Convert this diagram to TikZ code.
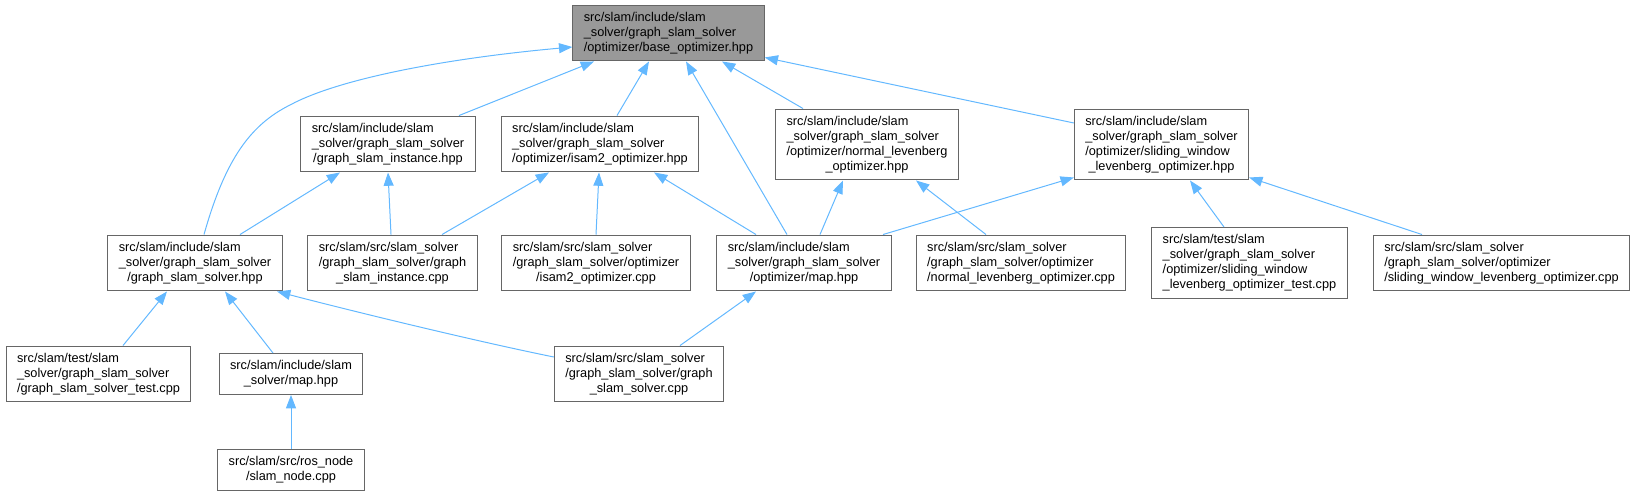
\documentclass[tikz,border=0pt]{standalone}
\usepackage{fontspec}
\setmainfont{Liberation Sans}
\usetikzlibrary{arrows.meta,calc}
\definecolor{edgeblue}{HTML}{63B8FF}
\definecolor{boxgray}{HTML}{666666}
\definecolor{basefill}{HTML}{999999}
\newcommand\fname[2]{\begin{tabular}{@{}l@{}}#1\\\multicolumn{1}{@{}c@{}}{#2}\end{tabular}}
\begin{document}
\begin{tikzpicture}[x=0.75pt,y=-0.75pt,
    file/.style={draw=boxgray,line width=0.75pt,fill=white,inner xsep=8.25pt,inner ysep=4.1pt,
      font=\fontsize{9.56}{11.25}\selectfont},
    dep/.style={draw=edgeblue,line width=0.75pt,-{Triangle[length=10pt,width=7.5pt]}}]
  \useasboundingbox (0,0) rectangle (1637,496);
  \draw
    (668.5,33) node[file,fill=basefill] (base){\fname{src/slam/include/slam\\\_solver/graph\_slam\_solver}{/optimizer/base\_optimizer.hpp}}
    (388,144) node[file] (insthpp){\fname{src/slam/include/slam\\\_solver/graph\_slam\_solver}{/graph\_slam\_instance.hpp}}
    (600,144) node[file] (isamhpp){\fname{src/slam/include/slam\\\_solver/graph\_slam\_solver}{/optimizer/isam2\_optimizer.hpp}}
    (867,144.5) node[file] (normhpp){\fname{src/slam/include/slam\\\_solver/graph\_slam\_solver\\/optimizer/normal\_levenberg}{\_optimizer.hpp}}
    (1161.5,144.5) node[file] (slidhpp){\fname{src/slam/include/slam\\\_solver/graph\_slam\_solver\\/optimizer/sliding\_window}{\_levenberg\_optimizer.hpp}}
    (195,263) node[file] (solvhpp){\fname{src/slam/include/slam\\\_solver/graph\_slam\_solver}{/graph\_slam\_solver.hpp}}
    (392.5,263) node[file] (instcpp){\fname{src/slam/src/slam\_solver\\/graph\_slam\_solver/graph}{\_slam\_instance.cpp}}
    (596,263) node[file] (isamcpp){\fname{src/slam/src/slam\_solver\\/graph\_slam\_solver/optimizer}{/isam2\_optimizer.cpp}}
    (804,263) node[file] (mapopt){\fname{src/slam/include/slam\\\_solver/graph\_slam\_solver}{/optimizer/map.hpp}}
    (1021,263) node[file] (normcpp){\fname{src/slam/src/slam\_solver\\/graph\_slam\_solver/optimizer}{/normal\_levenberg\_optimizer.cpp}}
    (1249.5,263) node[file] (slidtest){\fname{src/slam/test/slam\\\_solver/graph\_slam\_solver\\/optimizer/sliding\_window}{\_levenberg\_optimizer\_test.cpp}}
    (1501.5,263) node[file] (slidcpp){\fname{src/slam/src/slam\_solver\\/graph\_slam\_solver/optimizer}{/sliding\_window\_levenberg\_optimizer.cpp}}
    (98.5,374) node[file] (solvtest){\fname{src/slam/test/slam\\\_solver/graph\_slam\_solver}{/graph\_slam\_solver\_test.cpp}}
    (291,374) node[file] (mapslam){\fname{src/slam/include/slam}{\_solver/map.hpp}}
    (639,374) node[file] (solvcpp){\fname{src/slam/src/slam\_solver\\/graph\_slam\_solver/graph}{\_slam\_solver.cpp}}
    (291,470) node[file] (slamnode){\fname{src/slam/src/ros\_node}{/slam\_node.cpp}};
  \begin{scope}[dep]
    \draw ($(solvhpp.north)+(9,0)$) .. controls (225,160) and (250,125) .. (290,105)
      .. controls (340,78) and (450,58) .. ($(base.west)+(0,14)$);
    \draw ($(insthpp.north)+(71,0)$) to ($(base.south)+(-74.5,0)$);
    \draw ($(isamhpp.north)+(17,0)$) to ($(base.south)+(-19.5,0)$);
    \draw ($(mapopt.north)+(-17,0)$) to ($(base.south)+(17.5,0)$);
    \draw ($(normhpp.north)+(-64,0)$) to ($(base.south)+(53.5,0)$);
    \draw ($(slidhpp.west)+(0,-21.5)$) to ($(base.south east)+(0,-4)$);
    \draw ($(solvhpp.north)+(45,0)$) to ($(insthpp.south)+(-48,0)$);
    \draw ($(instcpp.north)+(-1.5,0)$) to (insthpp.south);
    \draw ($(instcpp.north)+(49.5,0)$) to ($(isamhpp.south)+(-51,0)$);
    \draw (isamcpp.north) to ($(isamhpp.south)+(-1,0)$);
    \draw ($(mapopt.north)+(-48,0)$) to ($(isamhpp.south)+(54,0)$);
    \draw ($(mapopt.north)+(16,0)$) to ($(normhpp.south)+(-24,0)$);
    \draw ($(normcpp.north)+(-35,0)$) to ($(normhpp.south)+(49,0)$);
    \draw ($(mapopt.north)+(79,0)$) to ($(slidhpp.south west)+(0,-3)$);
    \draw ($(slidtest.north)+(-25.5,0)$) to ($(slidhpp.south)+(28.5,0)$);
    \draw ($(slidcpp.north)+(-79.5,0)$) to ($(slidhpp.south east)+(0,-3)$);
    \draw ($(solvtest.north)+(24.5,0)$) to ($(solvhpp.south)+(-28,0)$);
    \draw ($(mapslam.north)+(-18,0)$) to ($(solvhpp.south)+(30,0)$);
    \draw ($(solvcpp.west)+(0,-17)$) .. controls (470,340) and (340,308) .. ($(solvhpp.south)+(82,0)$);
    \draw ($(solvcpp.north)+(41,0)$) to ($(mapopt.south)+(-48,0)$);
    \draw (slamnode.north) to (mapslam.south);
  \end{scope}
\end{tikzpicture}
\end{document}
